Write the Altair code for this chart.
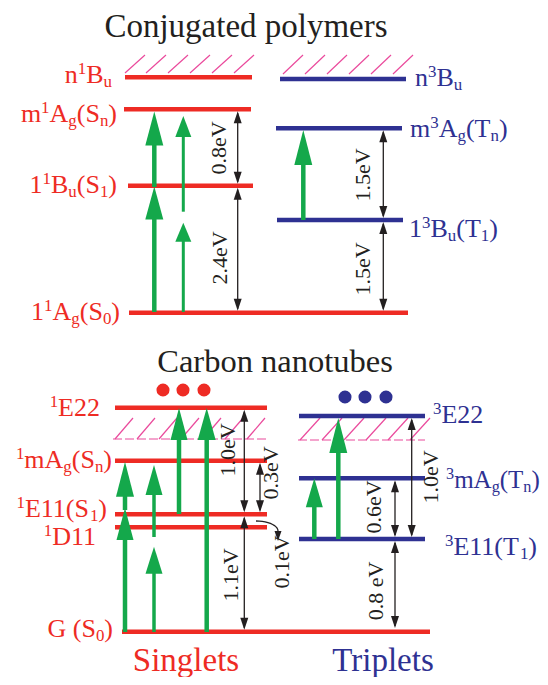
import altair as alt
import numpy as np
import pandas as pd

RED = "#ee2b24"
BLUE = "#2e3192"
GREEN = "#14a84b"
PINK = "#ea4a9c"
INK = "#231f20"
SERIF = "Liberation Serif"

# ---------------- energy levels ----------------
level_names = ["n1Bu", "m1Ag", "11Bu", "11Ag", "n3Bu", "m3Ag", "13Bu",
               "1E22", "1mAg", "1E11", "1D11", "G", "3E22", "3mAg", "3E11"]
level_x1 = [125, 124, 128, 129, 280, 276, 277, 115, 115, 115, 115, 122, 299, 299, 299]
level_x2 = [252, 251, 253, 408, 406, 402, 403, 267, 267, 267, 267, 430, 425, 425, 425]
level_y = [77.3, 109.3, 185.7, 312.7, 79, 128.3, 220, 407.7, 460.7, 514.3, 527.3, 631.7, 416, 478.3, 539]
level_col = [RED] * 4 + [BLUE] * 3 + [RED] * 5 + [BLUE] * 3

# ---------------- hatched continua ----------------
hatch_x = [[125, 146, 168, 190, 212, 234],
           [283, 305, 327, 349, 371, 393],
           [115, 137, 159, 181, 203, 225, 247],
           [300, 322, 344, 366, 388, 410]]
hatch_ybot = [73, 74, 439, 440]
hatch_ytop = [55, 55, 418, 418]
hatch_dx = [20, 20, 18, 20]
hbase_x1 = [113, 298]
hbase_x2 = [268, 425]
hbase_y = [439, 440]

# ---------------- green transition arrows ----------------
ga_x = [154.3, 154.3, 183.3, 183.3, 303.3, 125, 125, 154, 154, 179, 206.7, 314.3, 338.3]
ga_tail = [312, 187, 312, 211.7, 220, 632, 510, 632, 537, 514, 632, 539, 539]
ga_tip = [186.5, 111.5, 222.7, 116, 130, 508, 461.7, 546.7, 465, 408, 408, 478.3, 418]
ga_len = [33, 34, 19, 21, 35, 32, 35, 27, 30, 32, 32, 29, 35]
ga_half = [9, 9, 8, 8, 9, 8.5, 9, 8.5, 8.5, 8.5, 9, 8.5, 9]
ga_shaft = [4.5, 4.5, 3, 3, 4.5, 4.5, 4.5, 3.5, 3.5, 4.5, 4.5, 4.5, 4.5]

# ---------------- black energy-gap arrows ----------------
bk_x = [237.7, 237.7, 383.3, 383.3, 244.3, 244.3, 260, 395, 411.7, 395]
bk_top = [109.3, 185.7, 128.3, 220, 407.7, 514.3, 460.7, 478.3, 416, 539]
bk_bot = [185.7, 312.7, 220, 312.7, 514.3, 631.7, 514.3, 539, 539, 630]

ev_text = ["0.8eV", "2.4eV", "1.5eV", "1.5eV", "1.0eV", "1.1eV", "0.3eV", "0.1eV", "0.6eV", "1.0eV", "0.8 eV"]
ev_x = [219, 220, 363, 363, 228, 231, 271, 282, 374, 431, 376]
ev_y = [148, 258, 175, 269, 450, 575, 473, 562, 507, 477, 591]

# ---------------- dots ----------------
dot_x = [163, 183, 204, 345, 365, 386]
dot_y = [390, 390, 390, 397, 397, 397]
dot_col = [RED] * 3 + [BLUE] * 3

# ---------------- titles ----------------
title_text = ["Conjugated polymers", "Carbon nanotubes", "Singlets", "Triplets"]
title_x = [246, 275, 186, 383]
title_y = [37, 372, 671, 671]
title_col = [INK, INK, RED, BLUE]
title_fs = [33, 32.5, 33, 33]

# ---------------- level labels ----------------
left_labels = ["n^1B_u", "m^1A_g(S_n)", "1^1B_u(S_1)", "1^1A_g(S_0)",
               "^1E22", "^1mA_g(S_n)", "^1E11(S_1)", "^1D11", "G (S_0)"]
left_right_x = [112, 117, 117, 120, 100, 112, 107, 97, 113]
left_base_y = [83, 122, 193, 320, 416, 468, 517, 545, 637]
left_fs = [26] * 9

right_labels = ["n^3B_u", "m^3A_g(T_n)", "1^3B_u(T_1)", "^3E22", "^3mA_g(T_n)", "^3E11(T_1)"]
right_left_x = [415, 410, 409, 433, 446, 445]
right_base_y = [86, 137, 237, 423, 488, 555]
right_fs = [26, 26, 26, 26, 25, 26]

SMALL = 0.65

# Times / Liberation Serif advance widths (em)
W = {" ": .25, "(": .333, ")": .333, ".": .25, "A": .722, "B": .667, "C": .667,
     "D": .722, "E": .611, "G": .722, "S": .556, "T": .611, "V": .722, "a": .444,
     "e": .444, "g": .5, "l": .278, "m": .778, "n": .5, "u": .5}
for d in "0123456789":
    W[d] = .5


def text_w(t, fs):
    return sum(W.get(c, .5) for c in t) * fs


def parse(label):
    segs, buf, i = [], "", 0
    while i < len(label):
        c = label[i]
        if c in "^_":
            if buf:
                segs.append((buf, "n"))
                buf = ""
            segs.append((label[i + 1], "sup" if c == "^" else "sub"))
            i += 2
        else:
            buf += c
            i += 1
    if buf:
        segs.append((buf, "n"))
    return segs


def layout(label, x, y, anchor, color, fs):
    segs = parse(label)
    sizes = [fs * SMALL if k != "n" else fs for _, k in segs]
    widths = [text_w(t, s) for (t, _), s in zip(segs, sizes)]
    cur = x - sum(widths) if anchor == "right" else x
    rows = []
    for (t, k), s, w in zip(segs, sizes, widths):
        yy = y + (-0.36 * fs if k == "sup" else 0.17 * fs if k == "sub" else 0)
        rows.append(dict(text=t, x=cur, y=yy, fs=s, color=color))
        cur += w
    return rows


label_rows = []
for lab, x, y, f in zip(left_labels, left_right_x, left_base_y, left_fs):
    label_rows += layout(lab, x, y, "right", RED, f)
for lab, x, y, f in zip(right_labels, right_left_x, right_base_y, right_fs):
    label_rows += layout(lab, x, y, "left", BLUE, f)
labels_df = pd.DataFrame(label_rows)

levels_df = pd.DataFrame(dict(name=level_names, x1=level_x1, x2=level_x2, y=level_y, color=level_col))

slash_rows = []
for xs_, yb, yt, dx in zip(hatch_x, hatch_ybot, hatch_ytop, hatch_dx):
    for x in xs_:
        slash_rows.append(dict(x=x, y=yb, x2=x + dx, y2=yt))
slash_df = pd.DataFrame(slash_rows)
hbase_df = pd.DataFrame(dict(x1=hbase_x1, x2=hbase_x2, y=hbase_y))


def up_head(L, h):
    return f"M0,0L{-h / L:.3f},1L{h / L:.3f},1Z", (2 * L) ** 2


def down_head(L, h):
    return f"M0,0L{-h / L:.3f},-1L{h / L:.3f},-1Z", (2 * L) ** 2


g_shaft_rows, g_head_rows = [], []
for x, tail, tip, L, h, sw in zip(ga_x, ga_tail, ga_tip, ga_len, ga_half, ga_shaft):
    g_shaft_rows.append(dict(x=x, y1=tail, y2=tip + 0.7 * L, sw=sw))
    shp, sz = up_head(L, h)
    g_head_rows.append(dict(x=x, y=tip, shape=shp, size=sz))
g_shaft_df = pd.DataFrame(g_shaft_rows)
g_head_df = pd.DataFrame(g_head_rows)

BK_L, BK_H = 12, 4
b_shaft_rows, b_head_rows = [], []
for x, t, b in zip(bk_x, bk_top, bk_bot):
    b_shaft_rows.append(dict(x=x, y1=t + 4, y2=b - 4))
    shp, sz = up_head(BK_L, BK_H)
    b_head_rows.append(dict(x=x, y=t + 2, shape=shp, size=sz))
    shp, sz = down_head(BK_L, BK_H)
    b_head_rows.append(dict(x=x, y=b - 2, shape=shp, size=sz))

# curved pointer for the 0.1 eV gap
cx, cy, rx, ry = 256, 531, 22, 10
th = np.linspace(np.pi / 2, 0, 12)
curve_df = pd.DataFrame(dict(x=cx + rx * np.cos(th), y=cy - ry * np.sin(th), i=np.arange(len(th))))
shp, sz = down_head(10, 3.5)
b_head_rows.append(dict(x=cx + rx, y=cy + 10, shape=shp, size=sz))
b_shaft_df = pd.DataFrame(b_shaft_rows)
b_head_df = pd.DataFrame(b_head_rows)

ev_df = pd.DataFrame(dict(text=ev_text, x=ev_x, y=ev_y))
dots_df = pd.DataFrame(dict(x=dot_x, y=dot_y, color=dot_col))
titles_df = pd.DataFrame(dict(text=title_text, x=title_x, y=title_y, color=title_col, fs=title_fs))

xs = alt.Scale(domain=[8, 540], nice=False, zero=False)
ys = alt.Scale(domain=[8, 677], nice=False, zero=False, reverse=True)


def X(f):
    return alt.X(f, type="quantitative", scale=xs, axis=None)


def Y(f):
    return alt.Y(f, type="quantitative", scale=ys, axis=None)


slashes = alt.Chart(slash_df).mark_rule(strokeWidth=1.2, color=PINK).encode(
    x=X("x"), x2=alt.X2("x2"), y=Y("y"), y2=alt.Y2("y2"))
hbase = alt.Chart(hbase_df).mark_rule(strokeWidth=1.2, color=PINK, strokeDash=[9, 3]).encode(
    x=X("x1"), x2=alt.X2("x2"), y=Y("y"))
levels = alt.Chart(levels_df).mark_rule(strokeWidth=4.5).encode(
    x=X("x1"), x2=alt.X2("x2"), y=Y("y"), color=alt.Color("color:N", scale=None))
b_shafts = alt.Chart(b_shaft_df).mark_rule(strokeWidth=1.3, color=INK).encode(
    x=X("x"), y=Y("y1"), y2=alt.Y2("y2"))
curve = alt.Chart(curve_df).mark_line(strokeWidth=1.3, color=INK).encode(
    x=X("x"), y=Y("y"), order="i:Q")
b_heads = alt.Chart(b_head_df).mark_point(filled=True, opacity=1, strokeWidth=0, color=INK).encode(
    x=X("x"), y=Y("y"), shape=alt.Shape("shape:N", scale=None), size=alt.Size("size:Q", scale=None))
g_shafts = alt.Chart(g_shaft_df).mark_rule(color=GREEN).encode(
    x=X("x"), y=Y("y1"), y2=alt.Y2("y2"), strokeWidth=alt.StrokeWidth("sw:Q", scale=None))
g_heads = alt.Chart(g_head_df).mark_point(filled=True, opacity=1, strokeWidth=0, color=GREEN).encode(
    x=X("x"), y=Y("y"), shape=alt.Shape("shape:N", scale=None), size=alt.Size("size:Q", scale=None))
dots = alt.Chart(dots_df).mark_point(shape="circle", filled=True, opacity=1, size=170, strokeWidth=0).encode(
    x=X("x"), y=Y("y"), color=alt.Color("color:N", scale=None))
labels = alt.Chart(labels_df).mark_text(align="left", baseline="alphabetic", font=SERIF).encode(
    x=X("x"), y=Y("y"), text="text:N", size=alt.Size("fs:Q", scale=None),
    color=alt.Color("color:N", scale=None))
evs = alt.Chart(ev_df).mark_text(angle=270, align="center", baseline="middle", font=SERIF,
                                 fontSize=22, color=INK).encode(x=X("x"), y=Y("y"), text="text:N")
titles = alt.Chart(titles_df).mark_text(align="center", baseline="alphabetic", font=SERIF).encode(
    x=X("x"), y=Y("y"), text="text:N", size=alt.Size("fs:Q", scale=None),
    color=alt.Color("color:N", scale=None))

chart = alt.layer(
    slashes, hbase, levels, b_shafts, curve, b_heads, g_shafts, g_heads, dots, labels, evs, titles
).properties(
    width=532, height=669, padding=0, autosize=alt.AutoSizeParams(type="none")
).configure_view(stroke=None)

chart.save("out.html", embed_options={"renderer": "svg", "actions": False})
